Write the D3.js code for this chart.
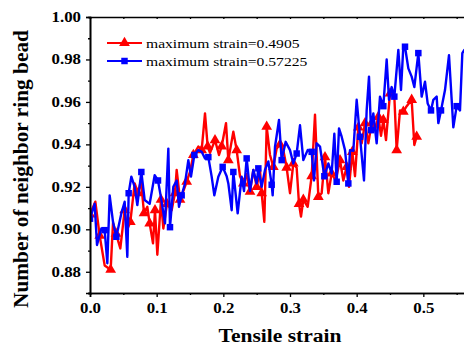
<!DOCTYPE html>
<html>
<head>
<meta charset="utf-8">
<script src="https://d3js.org/d3.v7.min.js"></script>
<style>
  body { margin: 0; background: #fff; }
  svg { display: block; }
  text { font-family: "Liberation Serif", "Times New Roman", serif; }
</style>
</head>
<body>
<div id="chart"></div>
<script>
// red series: maximum strain = 0.4905
let redStrain = [0, 0.008, 0.0145, 0.022, 0.031, 0.0345, 0.039, 0.0455, 0.052, 0.056,
  0.0605, 0.067, 0.072, 0.0765, 0.081, 0.086, 0.0895, 0.0945, 0.0975, 0.101,
  0.1065, 0.110, 0.1155, 0.1225, 0.1275, 0.130, 0.135, 0.140, 0.145, 0.150,
  0.155, 0.1625, 0.1675, 0.1725, 0.1765, 0.180, 0.1875, 0.1935, 0.1975, 0.204,
  0.2075, 0.215, 0.220, 0.225, 0.230, 0.2345, 0.240, 0.245, 0.250, 0.255,
  0.2575, 0.2615, 0.265, 0.270, 0.275, 0.280, 0.285, 0.290, 0.295, 0.300,
  0.305, 0.310, 0.3135, 0.3165, 0.320, 0.3265, 0.3325, 0.3375, 0.3425, 0.3475,
  0.3525, 0.3575, 0.3625, 0.3685, 0.375, 0.380, 0.385, 0.3885, 0.3935, 0.3975,
  0.4025, 0.4075, 0.4125, 0.4175, 0.4225, 0.4275, 0.4325, 0.4365, 0.440, 0.444,
  0.450, 0.4565, 0.460, 0.465, 0.470, 0.475, 0.4825, 0.4865, 0.490];
let redBead = [0.907, 0.913, 0.897, 0.883, 0.881, 0.903, 0.898, 0.891, 0.909, 0.900,
  0.9035, 0.9216, 0.917, 0.923, 0.9076, 0.9106, 0.9028, 0.8934, 0.909, 0.888,
  0.914, 0.9004, 0.912, 0.909, 0.917, 0.928, 0.914, 0.918, 0.9224, 0.927,
  0.935, 0.939, 0.9373, 0.9546, 0.939, 0.936, 0.942, 0.935, 0.939, 0.950,
  0.9326, 0.946, 0.9373, 0.925, 0.9216, 0.926, 0.9177, 0.928, 0.920, 0.928,
  0.917, 0.9035, 0.9483, 0.935, 0.9294, 0.938, 0.940, 0.9373, 0.929, 0.917,
  0.931, 0.929, 0.912, 0.906, 0.914, 0.9106, 0.925, 0.954, 0.9153, 0.917,
  0.934, 0.917, 0.9263, 0.923, 0.9326, 0.923, 0.9294, 0.920, 0.9365, 0.925,
  0.948, 0.9405, 0.950, 0.9405, 0.950, 0.9467, 0.953, 0.944, 0.9515, 0.942,
  0.964, 0.9625, 0.9373, 0.956, 0.9554, 0.958, 0.961, 0.9397, 0.9436];

// blue series: maximum strain = 0.57225
let blueStrain = [0, 0.007, 0.0105, 0.017, 0.022, 0.026, 0.0295, 0.0345, 0.0395, 0.047,
  0.052, 0.056, 0.058, 0.062, 0.067, 0.071, 0.077, 0.082, 0.0895, 0.097,
  0.102, 0.107, 0.1125, 0.1175, 0.120, 0.125, 0.130, 0.1335, 0.1375, 0.1425,
  0.1475, 0.1515, 0.1565, 0.1625, 0.1675, 0.1725, 0.1775, 0.1825, 0.1865, 0.1925,
  0.199, 0.205, 0.2075, 0.2125, 0.215, 0.2215, 0.2275, 0.231, 0.235, 0.240,
  0.245, 0.250, 0.2525, 0.2575, 0.2625, 0.2675, 0.2725, 0.274, 0.2775, 0.2835,
  0.2875, 0.2935, 0.300, 0.305, 0.310, 0.315, 0.320, 0.3265, 0.3325, 0.336,
  0.340, 0.345, 0.3515, 0.3575, 0.3625, 0.3665, 0.370, 0.3735, 0.3775, 0.3825,
  0.3875, 0.390, 0.395, 0.400, 0.405, 0.411, 0.415, 0.4185, 0.4215, 0.425,
  0.430, 0.435, 0.440, 0.445, 0.4485, 0.4525, 0.4565, 0.4625, 0.4665, 0.470,
  0.4725, 0.4775, 0.4825, 0.4865, 0.4925, 0.4975, 0.5025, 0.5065, 0.5115, 0.515,
  0.520, 0.5225, 0.5265, 0.5325, 0.5385, 0.545, 0.550, 0.555, 0.5585, 0.5615,
  0.567, 0.57225];
let blueBead = [0.905, 0.912, 0.8926, 0.9004, 0.8996, 0.884, 0.916, 0.9035, 0.8965, 0.9075,
  0.913, 0.887, 0.917, 0.9248, 0.920, 0.9114, 0.927, 0.9138, 0.912, 0.9255,
  0.923, 0.914, 0.9028, 0.938, 0.901, 0.920, 0.923, 0.9106, 0.916, 0.9216,
  0.9326, 0.9248, 0.935, 0.9373, 0.9365, 0.9334, 0.934, 0.9248, 0.916, 0.9248,
  0.9294, 0.925, 0.9216, 0.909, 0.927, 0.9075, 0.9248, 0.918, 0.9334, 0.918,
  0.928, 0.9216, 0.9287, 0.920, 0.928, 0.932, 0.921, 0.916, 0.9389, 0.9515,
  0.9326, 0.9412, 0.9373, 0.931, 0.9357, 0.949, 0.9326, 0.9373, 0.9365, 0.923,
  0.9405, 0.939, 0.925, 0.931, 0.9263, 0.945, 0.9224, 0.9475, 0.9436, 0.9373,
  0.9216, 0.9373, 0.937, 0.961, 0.9436, 0.923, 0.956, 0.9719, 0.9467, 0.9546,
  0.9405, 0.9625, 0.958, 0.980, 0.961, 0.967, 0.9625, 0.9845, 0.9656, 0.986,
  0.986, 0.9758, 0.9719, 0.967, 0.983, 0.9625, 0.9695, 0.9593, 0.956, 0.961,
  0.9625, 0.950, 0.956, 0.9656, 0.982, 0.948, 0.958, 0.956, 0.983, 0.9845,
  0.978, 0.984];

let xTicks = [0.0, 0.1, 0.2, 0.3, 0.4, 0.5];
let yTicks = [0.88, 0.90, 0.92, 0.94, 0.96, 0.98, 1.00];
let legendLabels = ["maximum strain=0.4905", "maximum strain=0.57225"];

let width = 464, height = 347;
let margin = { top: 17, left: 90, bottom: 54 };

let svg = d3.select("#chart").append("svg")
  .attr("width", width)
  .attr("height", height);

let x = d3.scaleLinear().domain([0, 0.6]).range([margin.left, margin.left + 400]);
let y = d3.scaleLinear().domain([0.87, 1.0]).range([height - margin.bottom, margin.top]);

// stretch text horizontally like the reference
function stretch(sel, k) {
  sel.each(function () {
    let w = this.getComputedTextLength();
    d3.select(this).attr("textLength", w * k).attr("lengthAdjust", "spacingAndGlyphs");
  });
}

// clip for the plot
svg.append("defs").append("clipPath").attr("id", "clip")
  .append("rect")
  .attr("x", margin.left).attr("y", margin.top - 8)
  .attr("width", 400).attr("height", y(0.87) - margin.top + 8);

let plot = svg.append("g").attr("clip-path", "url(#clip)");

function drawSeries(xs, ys, color, lw, markerEvery, shape, size) {
  let pts = xs.map((d, i) => [d, ys[i]]);
  let line = d3.line().x(d => x(d[0])).y(d => y(d[1]));
  plot.append("path")
    .datum(pts)
    .attr("fill", "none")
    .attr("stroke", color)
    .attr("stroke-width", lw)
    .attr("stroke-linejoin", "round")
    .attr("d", line);
  let sym = d3.symbol().type(shape).size(size);
  plot.selectAll(null)
    .data(pts.filter((d, i) => i % markerEvery === 0))
    .enter().append("path")
    .attr("d", sym)
    .attr("fill", color)
    .attr("transform", d => "translate(" + x(d[0]) + "," + y(d[1]) + ")");
}

drawSeries(redStrain, redBead, "#ff0000", 2.4, 2, d3.symbolTriangle, 50);
drawSeries(blueStrain, blueBead, "#0000ff", 2.4, 4, d3.symbolSquare, 42);

// axes
let xAxis = svg.append("g")
  .attr("transform", "translate(0," + y(0.87) + ")")
  .call(d3.axisBottom(x).tickValues(xTicks).tickFormat(d3.format(".1f")).tickSize(4).tickPadding(6));
let xMinor = svg.append("g")
  .attr("transform", "translate(0," + y(0.87) + ")")
  .call(d3.axisBottom(x).tickValues(d3.range(0.05, 0.6, 0.1)).tickFormat("").tickSize(2));

let yAxis = svg.append("g")
  .attr("transform", "translate(" + margin.left + ",0)")
  .call(d3.axisLeft(y).tickValues(yTicks).tickFormat(d3.format(".2f")).tickSize(4).tickPadding(5));
let yMinor = svg.append("g")
  .attr("transform", "translate(" + margin.left + ",0)")
  .call(d3.axisLeft(y).tickValues(d3.range(0.87, 1.0, 0.02)).tickFormat("").tickSize(2));

// top frame with inward ticks
let topAxis = svg.append("g")
  .attr("transform", "translate(0," + margin.top + ")")
  .call(d3.axisBottom(x).tickValues(d3.range(0, 0.6, 0.05)).tickFormat("").tickSize(2));

[xAxis, xMinor, yAxis, yMinor, topAxis].forEach(g => {
  g.select(".domain").attr("stroke-width", 1.6).attr("stroke", "#000");
  g.selectAll(".tick line").attr("stroke-width", 1.3).attr("stroke", "#000");
});

xAxis.selectAll("text")
  .attr("font-size", 14).attr("font-weight", "bold").attr("fill", "#000");
yAxis.selectAll("text")
  .attr("font-size", 14).attr("font-weight", "bold").attr("fill", "#000");
stretch(xAxis.selectAll("text"), 1.2);
stretch(yAxis.selectAll("text"), 1.2);

// axis titles
svg.append("text")
  .attr("x", 280).attr("y", 342)
  .attr("text-anchor", "middle")
  .attr("font-size", 18).attr("font-weight", "bold")
  .attr("textLength", 123).attr("lengthAdjust", "spacingAndGlyphs")
  .text("Tensile strain");

svg.append("text")
  .attr("transform", "translate(28,169) rotate(-90)")
  .attr("text-anchor", "middle")
  .attr("font-size", 20).attr("font-weight", "bold")
  .attr("textLength", 278).attr("lengthAdjust", "spacingAndGlyphs")
  .text("Number of neighbor ring bead");

// legend
let legendColors = ["#ff0000", "#0000ff"];
let legendShapes = [d3.symbolTriangle, d3.symbolSquare];
let legend = svg.selectAll(".legend")
  .data(legendLabels)
  .enter().append("g")
  .attr("class", "legend")
  .attr("transform", (d, i) => "translate(107," + (43 + i * 18) + ")");

legend.append("line")
  .attr("x1", 0).attr("x2", 35)
  .attr("stroke", (d, i) => legendColors[i])
  .attr("stroke-width", 2.2);
legend.append("path")
  .attr("d", (d, i) => d3.symbol().type(legendShapes[i]).size(i === 0 ? 50 : 42)())
  .attr("transform", "translate(17.5,0)")
  .attr("fill", (d, i) => legendColors[i]);
let legendText = legend.append("text")
  .attr("x", 39).attr("y", 4.5)
  .attr("font-size", 13)
  .attr("fill", "#000")
  .text(d => d);
stretch(legendText, 1.2);
</script>
</body>
</html>
